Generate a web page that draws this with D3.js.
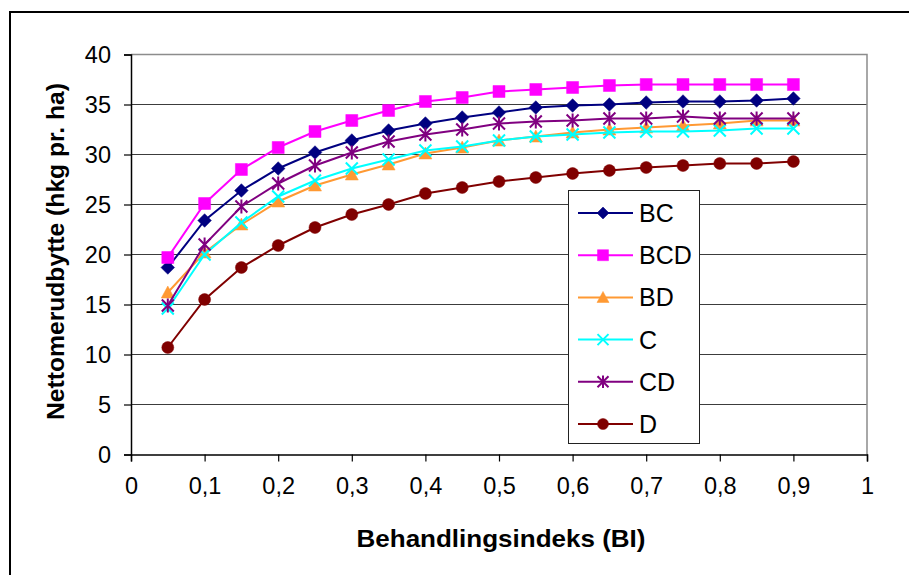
<!DOCTYPE html>
<html>
<head>
<meta charset="utf-8">
<script src="https://cdn.jsdelivr.net/npm/d3@7"></script>
<style>
  html, body { margin: 0; padding: 0; background: #fff; }
  svg { display: block; font-family: Arial, "Liberation Sans", sans-serif; }
</style>
</head>
<body>
<svg id="chart" width="909" height="575"></svg>
<script>
// ---- data ----
const bi = [0.05, 0.1, 0.15, 0.2, 0.25, 0.3, 0.35, 0.4, 0.45, 0.5, 0.55, 0.6, 0.65, 0.7, 0.75, 0.8, 0.85, 0.9];
const seriesNames = ["BC", "BCD", "BD", "C", "CD", "D"];
const BC  = [18.7, 23.4, 26.4, 28.6, 30.2, 31.4, 32.4, 33.1, 33.7, 34.2, 34.7, 34.9, 35.0, 35.2, 35.3, 35.3, 35.4, 35.6];
const BCD = [19.7, 25.1, 28.5, 30.7, 32.3, 33.4, 34.4, 35.3, 35.7, 36.3, 36.5, 36.7, 36.9, 37.0, 37.0, 37.0, 37.0, 37.0];
const BD  = [16.2, 20.2, 23.0, 25.3, 26.9, 28.0, 29.0, 30.1, 30.7, 31.4, 31.8, 32.2, 32.5, 32.7, 32.9, 33.1, 33.4, 33.4];
const C   = [14.6, 20.0, 23.2, 25.8, 27.4, 28.6, 29.5, 30.4, 30.8, 31.4, 31.8, 32.0, 32.2, 32.3, 32.3, 32.4, 32.6, 32.6];
const CD  = [14.9, 21.0, 24.8, 27.1, 28.9, 30.2, 31.3, 32.0, 32.5, 33.1, 33.3, 33.4, 33.6, 33.6, 33.8, 33.6, 33.6, 33.6];
const D   = [10.7, 15.5, 18.7, 20.9, 22.7, 24.0, 25.0, 26.1, 26.7, 27.3, 27.7, 28.1, 28.4, 28.7, 28.9, 29.1, 29.1, 29.3];
const seriesValues = [BC, BCD, BD, C, CD, D];
const seriesColors = ["#000080", "#FF00FF", "#FF9933", "#00FFFF", "#800080", "#800000"];
const seriesMarkers = ["diamond", "square", "triangle", "x", "star", "circle"];
const xTicks = [0, 0.1, 0.2, 0.3, 0.4, 0.5, 0.6, 0.7, 0.8, 0.9, 1];
const xTickLabels = ["0", "0,1", "0,2", "0,3", "0,4", "0,5", "0,6", "0,7", "0,8", "0,9", "1"];
const yTicks = [0, 5, 10, 15, 20, 25, 30, 35, 40];
const xTitle = "Behandlingsindeks (BI)";
const yTitle = "Nettomerudbytte (hkg pr. ha)";

// ---- layout ----
const svg = d3.select("#chart");
const x = d3.scaleLinear().domain([0, 1]).range([131, 867]);
const y = d3.scaleLinear().domain([0, 40]).range([454.5, 54.5]);

// outer frame
svg.append("rect").attr("x", 10).attr("y", 12).attr("width", 1000).attr("height", 1000)
  .attr("fill", "#fff").attr("stroke", "#000").attr("stroke-width", 2);

// gridlines
svg.append("g").selectAll("line").data(yTicks.filter(d => d > 0 && d < 40)).join("line")
  .attr("x1", x(0)).attr("x2", x(1)).attr("y1", d => y(d)).attr("y2", d => y(d))
  .attr("stroke", "#3c3c3c").attr("stroke-width", 1.2);
// plot area top/right border (gray)
svg.append("path")
  .attr("d", `M${x(0)},${y(40)}H${x(1)}V${y(0)}`)
  .attr("fill", "none").attr("stroke", "#8c8c8c").attr("stroke-width", 1.5);

// axes
const yAxis = d3.axisLeft(y).tickValues(yTicks).tickSize(7).tickPadding(13).tickFormat(d => String(d));
const gy = svg.append("g").attr("transform", `translate(${x(0)},0)`).call(yAxis);
gy.select(".domain").attr("stroke", "#000").attr("stroke-width", 1.5);
gy.selectAll(".tick line").attr("stroke", "#000").attr("stroke-width", 1.2);
gy.selectAll(".tick text").attr("font-size", "23.5px").attr("fill", "#000")
  .attr("font-family", "Arial, 'Liberation Sans', sans-serif");

const xAxis = d3.axisBottom(x).tickValues(xTicks).tickSize(7).tickPadding(16)
  .tickFormat((d, i) => xTickLabels[i]);
const gx = svg.append("g").attr("transform", `translate(0,${y(0)})`).call(xAxis);
gx.select(".domain").attr("stroke", "#000").attr("stroke-width", 1.5);
gx.selectAll(".tick line").attr("stroke", "#000").attr("stroke-width", 1.2);
gx.selectAll(".tick text").attr("font-size", "23.5px").attr("fill", "#000")
  .attr("font-family", "Arial, 'Liberation Sans', sans-serif");

// markers
function markerPath(type, r) {
  switch (type) {
    case "diamond": return `M0,${-r}L${r},0L0,${r}L${-r},0Z`;
    case "square": return `M${-r},${-r}H${r}V${r}H${-r}Z`;
    case "triangle": return `M0,${-r}L${r},${r * 0.85}L${-r},${r * 0.85}Z`;
    case "x": return `M${-r},${-r}L${r},${r}M${-r},${r}L${r},${-r}`;
    case "star": return `M${-r},${-r}L${r},${r}M${-r},${r}L${r},${-r}M0,${-r * 1.15}V${r * 1.15}`;
    case "circle": return d3.symbol(d3.symbolCircle, Math.PI * r * r)();
  }
}
function drawMarker(g, type, color, r) {
  const filled = !(type === "x" || type === "star");
  g.append("path").attr("d", markerPath(type, r))
    .attr("fill", filled ? color : "none")
    .attr("stroke", color)
    .attr("stroke-width", filled ? 0.5 : 2);
}

const line = d3.line().x((d, i) => x(bi[i])).y(d => y(d));
const plot = svg.append("g");
seriesNames.forEach((name, si) => {
  const vals = seriesValues[si];
  const col = seriesColors[si];
  const g = plot.append("g");
  g.append("path").datum(vals).attr("d", line)
    .attr("fill", "none").attr("stroke", col).attr("stroke-width", 2);
  const sizes = { diamond: 6.8, square: 6, triangle: 6.5, x: 6, star: 6, circle: 6 };
  vals.forEach((v, i) => {
    const mg = g.append("g").attr("transform", `translate(${x(bi[i])},${y(v)})`);
    drawMarker(mg, seriesMarkers[si], col, sizes[seriesMarkers[si]]);
  });
});

// legend
const lg = svg.append("g");
lg.append("rect").attr("x", 568.5).attr("y", 190.5).attr("width", 131).attr("height", 253)
  .attr("fill", "#fff").attr("stroke", "#222").attr("stroke-width", 1);
seriesNames.forEach((name, si) => {
  const cy = 213 + si * 42.2;
  const col = seriesColors[si];
  lg.append("line").attr("x1", 578).attr("x2", 633).attr("y1", cy).attr("y2", cy)
    .attr("stroke", col).attr("stroke-width", 2);
  const mg = lg.append("g").attr("transform", `translate(603,${cy})`);
  const sizes = { diamond: 6, square: 5.5, triangle: 6, x: 5.5, star: 5.5, circle: 5.5 };
  drawMarker(mg, seriesMarkers[si], col, sizes[seriesMarkers[si]]);
  lg.append("text").attr("x", 639).attr("y", cy).attr("dy", "0.36em")
    .attr("font-size", "25px").attr("fill", "#000").text(name);
});

// titles
svg.append("text").attr("x", 501).attr("y", 547).attr("text-anchor", "middle")
  .attr("font-size", "24px").attr("font-weight", "bold").attr("fill", "#000")
  .attr("textLength", 289).attr("lengthAdjust", "spacingAndGlyphs").text(xTitle);
svg.append("text").attr("transform", "translate(55,251.5) rotate(-90)")
  .attr("text-anchor", "middle").attr("dy", "0.36em")
  .attr("font-size", "24px").attr("font-weight", "bold").attr("fill", "#000")
  .attr("textLength", 337).attr("lengthAdjust", "spacingAndGlyphs").text(yTitle);
</script>
</body>
</html>
